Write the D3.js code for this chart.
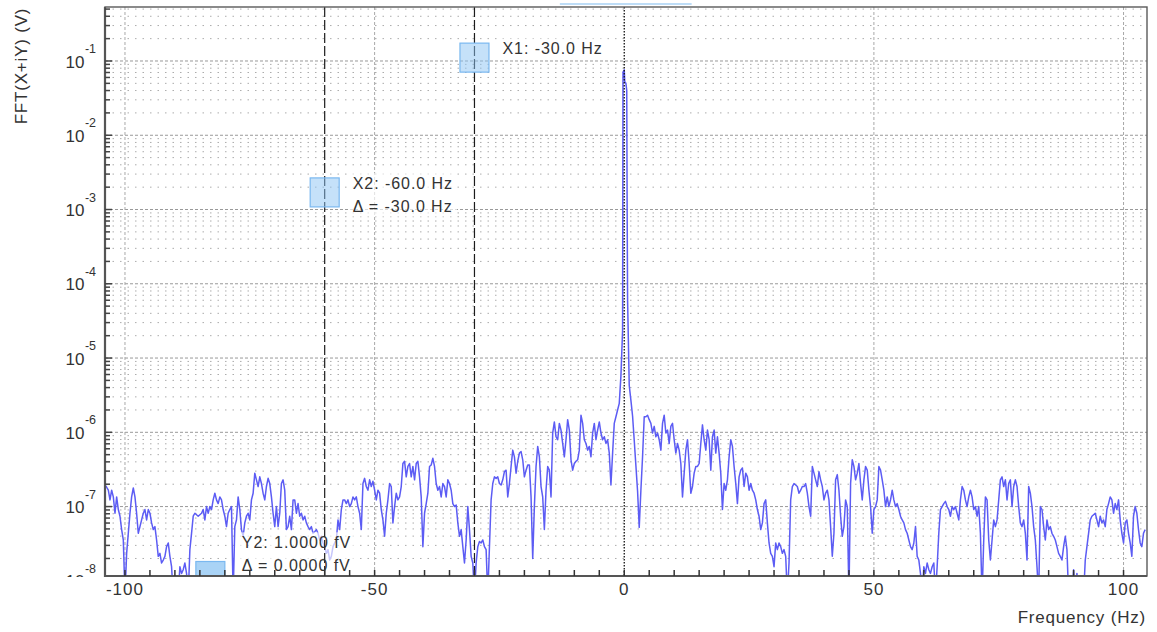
<!DOCTYPE html>
<html><head><meta charset="utf-8">
<script src="https://cdn.jsdelivr.net/npm/d3@7"></script>
<style>
body{margin:0;background:#fff;}
svg text{font-family:"Liberation Sans",Arial,sans-serif;fill:#333;}
</style></head><body><svg id="c" width="1157" height="632"></svg>
<script>
// ---------------- data ----------------
const binStartHz = -104;
const binStepHz = 1/3;
// log10 of |FFT| amplitude (V), one value per bin
const amplitudeLog10 = [
-6.71,-6.74,-6.78,-6.91,-6.78,-6.87,-7.09,-6.87,-7.04,-7.13,
-7.31,-7.45,-8.2,-7.63,-7.36,-7.09,-6.87,-6.75,-6.87,-7.09,
-7.36,-7.27,-7.18,-7.09,-7.04,-7.18,-7.04,-7.09,-7.22,-7.31,
-7.27,-7.45,-7.67,-7.63,-7.76,-7.72,-7.67,-7.54,-7.49,-7.67,
-7.81,-8.2,-8.2,-8.2,-8.2,-7.81,-7.90,-7.85,-7.76,-7.90,
-8.2,-7.58,-7.36,-7.13,-7.09,-7.11,-7.13,-7.11,-7.09,-7.04,
-7.18,-7.00,-7.09,-7.00,-7.04,-6.91,-6.82,-6.91,-6.96,-6.87,
-6.91,-7.04,-7.13,-7.27,-7.09,-7.04,-7.00,-8.2,-7.27,-7.18,
-6.87,-7.04,-7.31,-7.40,-7.22,-7.13,-7.09,-7.18,-6.91,-6.82,
-6.55,-6.64,-6.73,-6.60,-6.69,-6.82,-6.91,-6.73,-6.62,-6.69,
-6.87,-7.09,-7.27,-7.00,-7.27,-7.09,-6.69,-6.64,-6.78,-7.31,
-7.27,-7.13,-7.31,-6.91,-6.91,-7.09,-6.96,-7.13,-7.09,-7.18,
-7.13,-7.22,-7.27,-7.31,-7.27,-7.36,-7.34,-7.31,-7.36,-7.45,
-7.40,-7.49,-7.54,-7.63,-7.58,-7.72,-7.67,-7.54,-7.49,-7.45,
-7.18,-7.31,-7.04,-6.91,-6.91,-6.96,-6.91,-7.00,-6.96,-6.87,
-6.91,-6.87,-7.00,-7.09,-7.31,-6.69,-6.62,-6.73,-6.78,-6.64,
-6.73,-6.66,-6.78,-6.91,-6.78,-6.82,-7.04,-7.18,-7.40,-7.09,
-6.91,-6.69,-6.73,-7.22,-7.00,-6.82,-6.91,-6.87,-6.73,-6.42,
-6.39,-6.60,-6.46,-6.42,-6.60,-6.46,-6.64,-6.42,-6.39,-6.60,
-6.87,-7.54,-7.09,-6.96,-6.82,-6.46,-6.44,-6.35,-6.46,-6.69,
-6.78,-6.73,-6.87,-6.69,-6.73,-6.87,-6.64,-6.69,-6.78,-6.96,
-7.00,
-6.98,-7.22,-7.40,-7.31,-7.54,-7.76,-7.45,-7.00,-7.31,-7.67,
-7.76,-8.2,-7.76,-7.54,-7.47,-7.49,-7.45,-7.54,-7.58,-8.2,
-7.54,-6.91,-6.69,-6.60,-6.62,-6.60,-6.69,-6.71,-6.64,-6.53,
-6.51,-6.87,-6.69,-6.46,-6.24,-6.33,-6.55,-6.39,-6.28,-6.26,
-6.37,-6.60,-6.51,-6.44,-6.44,-6.87,-7.70,-7.00,-6.46,-6.19,
-6.33,-6.73,-6.87,-7.31,-6.78,-6.46,-6.51,-6.87,-6.01,-5.86,
-6.06,-6.10,-5.88,-5.97,-6.15,-6.33,-6.10,-5.83,-5.97,-6.37,
-6.51,-6.42,-6.39,-6.37,-6.24,-5.77,-5.88,-6.10,-6.15,-6.24,
-6.19,-6.33,-6.01,-5.88,-6.10,-5.97,-5.86,-6.01,-6.10,-6.06,
-6.15,-6.10,-6.28,-6.71,-6.28,-5.88,-5.79,-5.70,-5.61,-5.24,
-4.63,-1.12,-1.30,-4.22,-5.37,-5.57,-5.78,-6.11,-6.45,-6.79,
-7.28,-6.78,-6.33,-5.79,-5.79,-5.77,-5.83,-5.88,-6.01,-5.92,
-6.06,-6.01,-6.10,-6.24,-5.88,-5.77,-6.01,-5.97,-6.15,-5.92,
-5.88,-6.10,-6.28,-6.15,-6.24,-6.42,-6.87,-6.55,-6.24,-6.10,
-6.42,-6.82,-6.73,-6.55,-6.46,-6.46,-6.42,-6.15,-5.90,-6.10,
-6.24,-5.97,-6.10,-6.51,-6.06,-5.97,-6.28,-6.06,-6.28,-6.55,
-7.04,-6.69,-6.78,-6.64,-6.33,-6.10,-6.19,-6.46,-6.69,-6.96,
-6.60,-6.51,-6.48,-6.73,-6.55,-6.60,-6.78,-6.69,-6.78,-6.82,
-6.91,-7.04,-7.13,-7.31,-7.22,-6.96,-6.91,-7.22,-7.49,-7.63,
-7.67,-7.81,-7.49,-7.58,-7.49,-7.54,-7.63,-7.58,-7.67,-8.2,
-7.76,-6.91,-6.73,-6.69,-6.71,-6.73,-6.82,-6.78,-6.73,-6.73,
-6.69,-6.82,-7.00,-7.13,-6.46,-6.55,-6.64,-6.73,-6.53,-6.64,
-6.73,-6.91,-6.82,-6.78,-6.91,-7.27,-7.67,-7.36,-6.64,-6.57,
-6.78,-7.13,-7.40,-7.27,-6.91,-7.00,-8.2,-6.69,-6.37,-6.46,
-6.64,-6.55,-6.42,-6.69,-6.91,-6.64,-6.46,-6.51,-6.78,-7.00,
-7.36,-7.04,-7.00,-6.91,-6.46,-6.51,-6.64,-6.78,-7.00,-6.87,
-7.00,-6.91,-6.78,-6.91,-7.00,-6.96,-7.04,-7.13,-7.18,-7.22,
-7.31,-7.36,-7.45,-7.54,-7.58,-7.49,-7.27,-7.67,-7.72,-7.90,
-8.2,-7.81,-7.90,-7.76,-7.85,-7.90,-7.81,-7.76,-8.2,-7.81,
-7.36,-7.04,-7.00,-6.96,-6.93,-7.00,-7.04,-7.13,-7.00,-7.04,
-7.00,-7.09,-7.18,-6.91,-6.73,-6.78,-6.91,-7.00,-6.87,-6.78,
-6.87,-7.04,-7.00,-7.13,-7.00,-7.36,-8.2,-7.45,-6.87,-6.91,
-7.45,-7.72,-7.45,-7.18,-7.27,-7.18,-6.91,-6.64,-6.60,-6.73,
-6.64,-6.91,-6.69,-6.64,-7.00,-6.73,-6.64,-6.73,-7.00,-7.22,
-7.27,-7.18,-7.36,-7.72,-6.73,-6.82,-7.00,-7.27,-7.45,-7.81,
-8.2,-7.00,-7.04,-7.27,-7.45,-7.18,-7.31,-7.27,-7.36,-7.40,
-7.45,-7.54,-7.63,-7.67,-7.72,-7.54,-7.40,-7.58,-8.2,-8.2,
-8.2,-7.85,-8.2,-7.90,-8.2,-8.2,-8.2,-8.2,-7.72,-7.54,
-7.36,-7.18,-7.13,-7.11,-7.09,-7.18,-7.27,-7.13,-7.22,-7.18,
-7.27,-7.04,-6.96,-6.87,-6.91,-7.09,-6.96,-7.04,-6.91,-7.18,
-7.36,-7.49,-7.22,-7.18,-7.36,-7.49,-7.67,-7.13,-7.00,-7.09,
-7.31,-7.49,-7.54,-7.36,-7.31
];
// extra samples on the carrier peak
const peakFreqHz = [-0.25, 0.1, 0.5, 0.58];
const peakLog10 = [-1.15, -1.28, -1.40, -3.0];

const xDomainHz = [-104.0, 104.7];
const yDomainLog10 = [-7.935, -0.273];
const xTickValues = [-100, -50, 0, 50, 100];
const xTickLabels = ["-100", "-50", "0", "50", "100"];
const xMinorStepHz = 5;
const yDecadeExponents = [-1, -2, -3, -4, -5, -6, -7, -8];
const xGridHz = [-100, -50, 50, 100];

const cursorLinesHz = [-60, -30];
const centerLineHz = 0;
const cursorHandles = [
  {hz: -30, v: 0.111, dx: 13.5, dy: -3.2, lines: ["X1: -30.0 Hz"], op: 0.5},
  {hz: -60, v: 1.7e-3, dx: 13.5, dy: -3.2, lines: ["X2: -60.0 Hz", "\u0394 = -30.0 Hz"], op: 0.5},
  {hz: -82.9, v: 1e-15, dx: 17, dy: -27.7, lines: ["Y2: 1.0000 fV", "\u0394 = 0.0000 fV"], op: 0.75}
];
const topHandleHz = [-12.9, 13.5];
const xTitle = "Frequency (Hz)";
const yTitle = "FFT(X+iY) (V)";

// ---------------- chart ----------------
const svg = d3.select("#c");
const P = {left: 105, top: 7, right: 1147, bottom: 576};
const x = d3.scaleLinear().domain(xDomainHz).range([P.left, P.right]);
const y = d3.scaleLog().domain([10 ** yDomainLog10[0], 10 ** yDomainLog10[1]]).range([P.bottom, P.top]);
const yc = y.copy().clamp(true);

const defs = svg.append("defs");
defs.append("clipPath").attr("id", "plotClip").append("rect")
  .attr("x", P.left).attr("y", P.top).attr("width", P.right - P.left).attr("height", P.bottom - P.top);
defs.append("clipPath").attr("id", "ylabClip").append("rect")
  .attr("x", 0).attr("y", 0).attr("width", P.left).attr("height", P.bottom + 1);

// grid values
const [ylo, yhi] = y.domain();
const minorVals = [], majorVals = [];
for (let e = -9; e <= 0; e++) {
  for (let m = 1; m <= 9; m++) {
    const v = m * 10 ** e;
    if (v < ylo || v > yhi) continue;
    if (m === 1) majorVals.push(v); else minorVals.push(v);
  }
}
const grid = svg.append("g");
grid.selectAll(".gm").data(minorVals).join("line")
  .attr("x1", P.left).attr("x2", P.right).attr("y1", d => y(d)).attr("y2", d => y(d))
  .attr("stroke", "#acacac").attr("stroke-width", 1).attr("stroke-dasharray", "1.5,6");
grid.selectAll(".gM").data(majorVals).join("line")
  .attr("x1", P.left).attr("x2", P.right).attr("y1", d => y(d)).attr("y2", d => y(d))
  .attr("stroke", "#999").attr("stroke-width", 1).attr("stroke-dasharray", "3,2");
grid.selectAll(".gv").data(xGridHz).join("line")
  .attr("x1", d => x(d)).attr("x2", d => x(d)).attr("y1", P.top).attr("y2", P.bottom)
  .attr("stroke", "#a8a8a8").attr("stroke-width", 1).attr("stroke-dasharray", "3,2");

// data
const pts = amplitudeLog10.map((v, i) => ({f: binStartHz + i * binStepHz, v: 10 ** v}))
  .concat(peakFreqHz.map((f, i) => ({f, v: 10 ** peakLog10[i]})))
  .sort((a, b) => a.f - b.f);
svg.append("path").datum(pts)
  .attr("clip-path", "url(#plotClip)")
  .attr("fill", "none").attr("stroke", "#5c5cf4").attr("stroke-width", 1.5)
  .attr("stroke-linejoin", "round")
  .attr("d", d3.line().x(d => x(d.f)).y(d => y(d.v)));

// label backgrounds layer
const bgLayer = svg.append("g");

// cursor lines
svg.append("g").selectAll("line").data(cursorLinesHz).join("line")
  .attr("x1", d => x(d)).attr("x2", d => x(d)).attr("y1", P.top).attr("y2", P.bottom)
  .attr("stroke", "#1c1c1c").attr("stroke-width", 1.2).attr("stroke-dasharray", "10,3");
svg.append("line").attr("x1", x(centerLineHz)).attr("x2", x(centerLineHz))
  .attr("y1", P.top).attr("y2", P.bottom)
  .attr("stroke", "#111").attr("stroke-width", 1.3).attr("stroke-dasharray", "1.5,1.5");

// handle boxes
const boxes = svg.append("g").attr("clip-path", "url(#plotClip)");
boxes.selectAll("rect").data(cursorHandles).join("rect")
  .attr("x", d => x(d.hz) - 14.5).attr("y", d => yc(d.v) - 14.5)
  .attr("width", 29).attr("height", 29)
  .attr("fill", "#8cc4f3").attr("fill-opacity", d => d.op)
  .attr("stroke", "#7ab8f0").attr("stroke-width", 1.2);

// top handle line
svg.append("line").attr("x1", x(topHandleHz[0])).attr("x2", x(topHandleHz[1]))
  .attr("y1", 4).attr("y2", 4).attr("stroke", "#a9d2f4").attr("stroke-width", 1.5);

// frame
svg.append("rect").attr("x", P.left).attr("y", P.top).attr("width", P.right - P.left).attr("height", P.bottom - P.top)
  .attr("fill", "none").attr("stroke", "#5a5a5a").attr("stroke-width", 1.4);
svg.append("line").attr("x1", P.left).attr("x2", P.left).attr("y1", P.top).attr("y2", P.bottom + 1)
  .attr("stroke", "#555").attr("stroke-width", 2.2);
svg.append("line").attr("x1", P.left).attr("x2", P.right).attr("y1", P.bottom).attr("y2", P.bottom)
  .attr("stroke", "#555").attr("stroke-width", 2.2);

// x ticks (inward)
const xMinor = d3.range(-100, 100 + 1e-9, xMinorStepHz);
svg.append("g").selectAll("line").data(xMinor).join("line")
  .attr("x1", d => x(d)).attr("x2", d => x(d)).attr("y1", P.bottom).attr("y2", P.bottom - 6)
  .attr("stroke", "#333").attr("stroke-width", 1.5);
// y ticks (inward)
svg.append("g").selectAll("line").data(minorVals).join("line")
  .attr("x1", P.left).attr("x2", P.left + 5).attr("y1", d => y(d)).attr("y2", d => y(d))
  .attr("stroke", "#444").attr("stroke-width", 1.5);
svg.append("g").selectAll("line").data(majorVals).join("line")
  .attr("x1", P.left).attr("x2", P.left + 7).attr("y1", d => y(d)).attr("y2", d => y(d))
  .attr("stroke", "#444").attr("stroke-width", 1.5);

// x tick labels
svg.append("g").selectAll("text").data(xTickValues).join("text")
  .attr("x", d => x(d)).attr("y", P.bottom + 19).attr("text-anchor", "middle")
  .style("font-size", "17px").style("letter-spacing", "1px")
  .text((d, i) => xTickLabels[i]);

// y tick labels
const yl = svg.append("g").attr("clip-path", "url(#ylabClip)");
yDecadeExponents.forEach(e => {
  const yy = y(10 ** e);
  const t = yl.append("text").attr("x", 65.5).attr("y", yy + 6.6)
    .attr("fill", e === -8 ? "#9a9a9a" : "#333");
  t.append("tspan").style("font-size", "17px").text("10");
  t.append("tspan").style("font-size", "12.5px").attr("dy", -14.5).attr("dx", 0.5).text(String(e));
});

// axis titles
svg.append("text").attr("x", P.right - 1).attr("y", 623).attr("text-anchor", "end")
  .style("font-size", "17px").style("letter-spacing", "0.8px").text(xTitle);
svg.append("text").attr("transform", "translate(27,66) rotate(-90)").attr("text-anchor", "middle")
  .style("font-size", "17px").style("letter-spacing", "0.8px").text(yTitle);

// cursor labels
const labelLayer = svg.append("g");
cursorHandles.forEach(h => {
  const x0 = x(h.hz) + 14.5 + h.dx;
  const y0 = yc(h.v) + h.dy;
  const t = labelLayer.append("text").style("font-size", "16px").style("letter-spacing", "0.95px");
  h.lines.forEach((s, i) => {
    t.append("tspan").attr("x", x0).attr("y", y0 + i * 22.4).text(s);
  });
  const bb = t.node().getBBox();
  bgLayer.append("rect").attr("x", bb.x - 4).attr("y", bb.y - 2)
    .attr("width", bb.width + 8).attr("height", bb.height + 4)
    .attr("fill", "#fff").attr("fill-opacity", 0.65);
});
</script></body></html>
